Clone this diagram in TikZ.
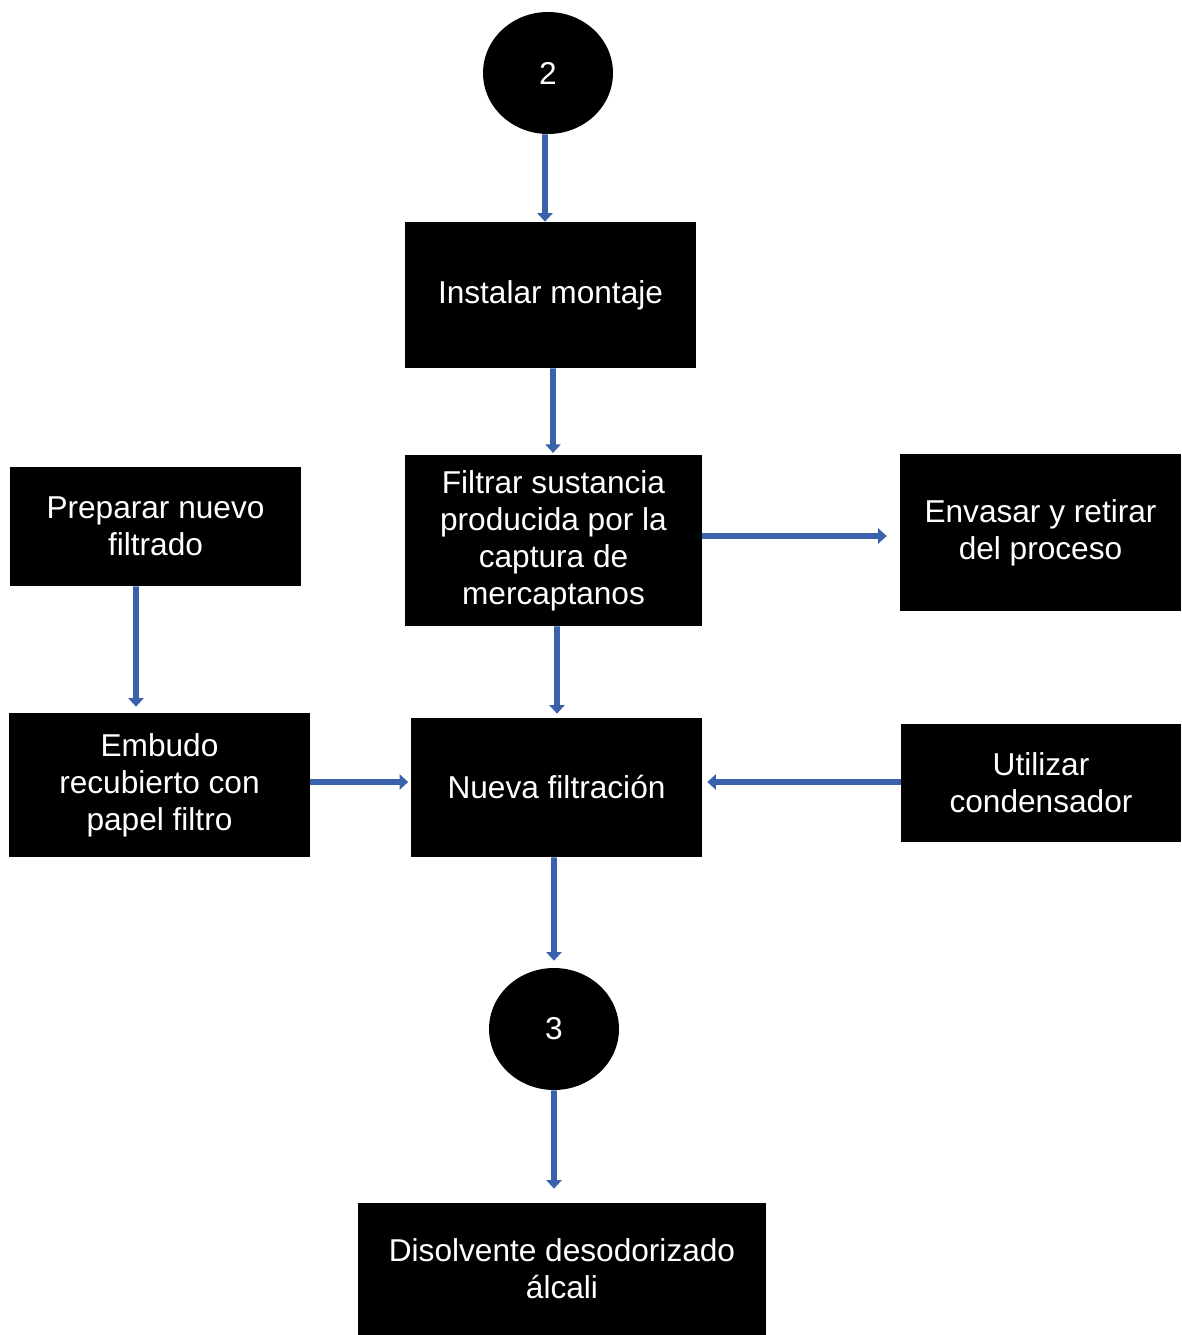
\documentclass[tikz,border=0pt]{standalone}
\usepackage{fontspec}
\setmainfont{Liberation Sans}
\usetikzlibrary{arrows.meta,shapes.geometric}
\definecolor{flujo}{HTML}{3A62AC}
\tikzset{
	caja/.style={rectangle, fill=black, text=white, align=center, inner sep=0pt,
		font=\fontsize{18}{21}\selectfont},
	conector/.style={ellipse, fill=black, text=white, inner sep=0pt,
		minimum width=2.6cm, minimum height=2.44cm, font=\fontsize{18}{21}\selectfont},
	flecha/.style={draw=flujo, line width=3.4pt, -{Triangle[width=0.3cm,length=0.17cm]}}
}
\begin{document}
\begin{tikzpicture}[x=0.02cm,y=-0.02cm, line join=round]
				\useasboundingbox (0,0) rectangle (1181,1335);
				% conectores de pagina
				\node[conector] (c2) at (548,73) {2};
				\node[conector] (c3) at (554,1029) {3};
				% pasos
				\node[caja, minimum width=5.82cm, minimum height=2.92cm] (instalar) at (550.5,295) {Instalar montaje};
				\node[caja, minimum width=5.94cm, minimum height=3.42cm] (filtrar) at (553.5,540.5) {Filtrar sustancia\\producida por la\\captura de\\mercaptanos};
				\node[caja, minimum width=5.62cm, minimum height=3.14cm] (envasar) at (1040.5,532.5) {Envasar y retirar\\del proceso};
				\node[caja, minimum width=5.82cm, minimum height=2.38cm] (preparar) at (155.5,526.5) {Preparar nuevo\\filtrado};
				\node[caja, minimum width=6.02cm, minimum height=2.88cm] (embudo) at (159.5,785) {Embudo\\recubierto con\\papel filtro};
				\node[caja, minimum width=5.82cm, minimum height=2.78cm] (nueva) at (556.5,787.5) {Nueva filtración};
				\node[caja, minimum width=5.6cm, minimum height=2.36cm] (condensador) at (1041,783) {Utilizar\\condensador};
				\node[caja, minimum width=8.16cm, minimum height=2.64cm] (disolvente) at (562,1269) {Disolvente desodorizado\\álcali};
				% flechas
				\draw[flecha] ([xshift=-0.06cm]c2.south) -- ([xshift=-0.11cm]instalar.north);
				\draw[flecha, shorten >=1pt] ([xshift=0.05cm]instalar.south) -- ([xshift=-0.01cm]filtrar.north);
				\draw[flecha, shorten >=0.26cm] ([yshift=0.09cm]filtrar.east) -- ([yshift=0.09cm]filtrar.east -| envasar.west);
				\draw[flecha, shorten >=0.08cm] ([xshift=0.07cm]filtrar.south) -- ([xshift=0.01cm]nueva.north);
				\draw[flecha, shorten >=0.12cm] ([xshift=-0.39cm]preparar.south) -- ([xshift=-0.47cm]embudo.north);
				\draw[flecha, shorten >=0.05cm] (embudo.east |- 0,782) -- (nueva.west |- 0,782);
				\draw[flecha, shorten >=0.1cm] (condensador.west |- 0,782) -- (nueva.east |- 0,782);
				\draw[flecha, shorten >=0.14cm] ([xshift=-0.05cm]nueva.south) -- ([xshift=0cm]c3.north);
				\draw[flecha, shorten >=0.28cm] (c3.south) -- ([xshift=-0.16cm]disolvente.north);
\end{tikzpicture}
\end{document}
